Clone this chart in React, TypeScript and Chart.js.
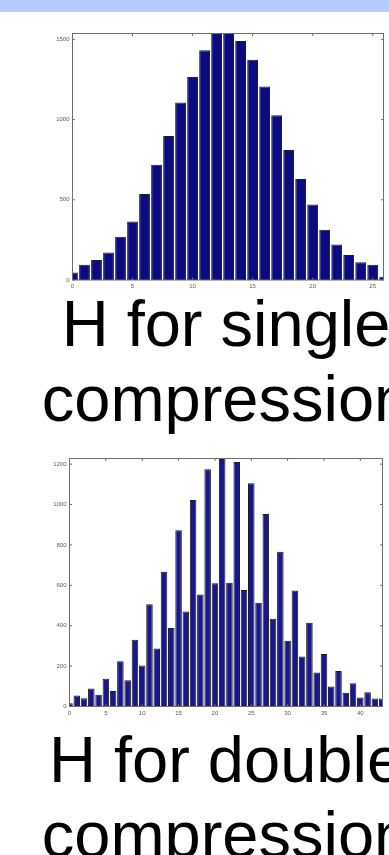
import React, { useEffect, useRef } from "react";
import { Chart, registerables } from "chart.js";

Chart.register(...registerables);

// ---- data ----
const singleBins = [0, 1, 2, 3, 4, 5, 6, 7, 8, 9, 10, 11, 12, 13, 14, 15, 16, 17, 18, 19, 20, 21, 22, 23, 24, 25, 26];
const singleCounts = [46, 95, 125, 172, 270, 365, 537, 718, 898, 1106, 1266, 1432, 1545, 1550, 1490, 1374, 1206, 1027, 811, 629, 471, 313, 222, 156, 110, 95, 21];
const singleXTicks = [0, 5, 10, 15, 20, 25];
const singleYTicks = [0, 500, 1000, 1500];

const doubleBins = [0, 1, 2, 3, 4, 5, 6, 7, 8, 9, 10, 11, 12, 13, 14, 15, 16, 17, 18, 19, 20, 21, 22, 23, 24, 25, 26, 27, 28, 29, 30, 31, 32, 33, 34, 35, 36, 37, 38, 39, 40, 41, 42, 43];
const doubleCounts = [16, 54, 41, 89, 58, 138, 77, 224, 130, 330, 203, 506, 287, 667, 389, 873, 471, 1023, 554, 1175, 610, 1240, 613, 1211, 577, 1106, 514, 953, 435, 766, 325, 574, 247, 415, 168, 260, 99, 176, 68, 115, 44, 71, 40, 40];
const doubleXTicks = [0, 5, 10, 15, 20, 25, 30, 35, 40];
const doubleYTicks = [0, 200, 400, 600, 800, 1000, 1200];

const singleCaption = ["H for single", "compression"];
const doubleCaption = ["H for double", "compression"];

const FONT = "'Liberation Sans', Arial, Helvetica, sans-serif";

const framePlugin = {
  id: "matlabFrame",
  afterDatasetsDraw(chart: any) {
    const { ctx, chartArea: a, scales } = chart;
    ctx.save();
    ctx.strokeStyle = "#6e6e6e";
    ctx.lineWidth = 1;
    ctx.strokeRect(a.left, a.top, a.right - a.left, a.bottom - a.top);
    const tl = 2.5;
    ctx.beginPath();
    scales.x.ticks.forEach((t: any) => {
      const px = scales.x.getPixelForValue(t.value);
      ctx.moveTo(px, a.bottom);
      ctx.lineTo(px, a.bottom - tl);
      ctx.moveTo(px, a.top);
      ctx.lineTo(px, a.top + tl);
    });
    scales.y.ticks.forEach((t: any) => {
      const py = scales.y.getPixelForValue(t.value);
      ctx.moveTo(a.left, py);
      ctx.lineTo(a.left + tl, py);
      ctx.moveTo(a.right, py);
      ctx.lineTo(a.right - tl, py);
    });
    ctx.stroke();
    ctx.restore();
  },
};

type HistProps = {
  bins: number[];
  counts: number[];
  xTicks: number[];
  yTicks: number[];
  xMax: number;
  yMax: number;
  color: string;
  top: number;
  height: number;
  padLeft: number;
  padRight: number;
  padTop: number;
  padBottom: number;
  yAxisWidth: number;
  xAxisHeight: number;
};

function Histogram(p: HistProps) {
  const ref = useRef<HTMLCanvasElement | null>(null);
  useEffect(() => {
    if (!ref.current) return;
    const chart = new Chart(ref.current, {
      type: "bar",
      data: {
        datasets: [
          {
            data: p.bins.map((b, i) => ({ x: b, y: p.counts[i] })),
            backgroundColor: p.color,
            borderColor: "#1e1e2a",
            borderWidth: 1,
            barPercentage: 0.9,
            categoryPercentage: 1,
          },
        ],
      },
      options: {
        responsive: false,
        animation: false,
        events: [],
        layout: {
          padding: { left: p.padLeft, right: p.padRight, top: p.padTop, bottom: p.padBottom },
        },
        plugins: { legend: { display: false }, tooltip: { enabled: false }, title: { display: false } },
        scales: {
          x: {
            type: "linear",
            min: 0,
            max: p.xMax,
            offset: false,
            grid: { display: false, drawTicks: false, offset: false },
            border: { display: false },
            ticks: {
              font: { size: 6, family: FONT },
              color: "#5a5a5a",
              padding: 3,
              maxRotation: 0,
              autoSkip: false,
              callback: (v: any) => String(v),
            },
            afterBuildTicks: (s: any) => {
              s.ticks = p.xTicks.map((v) => ({ value: v }));
            },
            afterFit: (s: any) => {
              s.height = p.xAxisHeight;
              s.paddingLeft = 0;
              s.paddingRight = 0;
            },
          },
          y: {
            type: "linear",
            min: 0,
            max: p.yMax,
            grid: { display: false, drawTicks: false },
            border: { display: false },
            ticks: {
              font: { size: 6, family: FONT },
              color: "#5a5a5a",
              padding: 3,
              autoSkip: false,
              callback: (v: any) => String(v),
            },
            afterBuildTicks: (s: any) => {
              s.ticks = p.yTicks.map((v) => ({ value: v }));
            },
            afterFit: (s: any) => {
              s.width = p.yAxisWidth;
              s.paddingTop = 0;
              s.paddingBottom = 0;
            },
          },
        },
      },
      plugins: [framePlugin],
    });
    return () => chart.destroy();
  }, []);
  return (
    <canvas
      ref={ref}
      width={389}
      height={p.height}
      style={{ position: "absolute", left: 0, top: p.top, width: 389, height: p.height }}
    />
  );
}

function Caption({ lines, top }: { lines: string[]; top: number }) {
  return (
    <div
      style={{
        position: "absolute",
        left: 226 - 300,
        width: 600,
        top,
        textAlign: "center",
        fontFamily: FONT,
        fontSize: 65,
        lineHeight: "75px",
        color: "#000",
        whiteSpace: "nowrap",
      }}
    >
      {lines.map((l, i) => (
        <div key={i}>{l}</div>
      ))}
    </div>
  );
}

export default function App() {
  return (
    <div
      style={{
        position: "absolute",
        left: 0,
        top: 0,
        width: 389,
        height: 855,
        overflow: "hidden",
        background: "#ffffff",
      }}
    >
      <div style={{ position: "absolute", left: 0, top: 0, width: 389, height: 12, background: "#b4cbfc" }} />
      <Histogram
        bins={singleBins}
        counts={singleCounts}
        xTicks={singleXTicks}
        yTicks={singleYTicks}
        xMax={25.9}
        yMax={1537}
        color="#0b0b80"
        top={12}
        height={288}
        padLeft={32.5}
        padRight={5.5}
        padTop={21.5}
        padBottom={6}
        yAxisWidth={40}
        xAxisHeight={14}
      />
      <Histogram
        bins={doubleBins}
        counts={doubleCounts}
        xTicks={doubleXTicks}
        yTicks={doubleYTicks}
        xMax={43.05}
        yMax={1228}
        color="#18188c"
        top={440}
        height={280}
        padLeft={29.5}
        padRight={6.5}
        padTop={18.5}
        padBottom={3.5}
        yAxisWidth={40}
        xAxisHeight={10}
      />
      <Caption lines={singleCaption} top={286} />
      <Caption lines={doubleCaption} top={722} />
    </div>
  );
}
